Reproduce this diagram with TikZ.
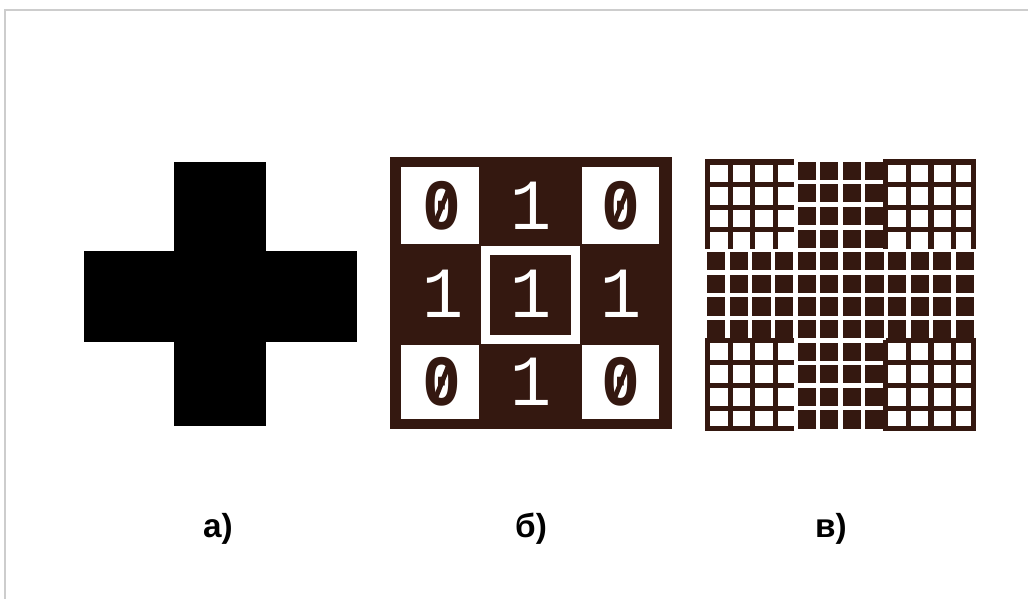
\documentclass[tikz,border=0pt]{standalone}
\usepackage{graphicx}
\usepackage{fontspec}
\setmainfont{Liberation Sans}
\newfontfamily\digitfont{Liberation Mono}
\definecolor{ink}{RGB}{52,24,16}
\definecolor{framegray}{RGB}{205,205,205}
\tikzset{
  zero/.style={text=ink, inner sep=0pt, font=\digitfont\bfseries\fontsize{54}{54}\selectfont},
  one/.style={text=white, inner sep=0pt, font=\digitfont\fontsize{54}{54}\selectfont},
  slash/.style={draw=ink, line width=3.6pt},
  gridline/.style={draw=ink, line width=3.8pt},
  darkcell/.style={fill=ink},
  caption/.style={inner sep=0pt, anchor=base, font=\bfseries\fontsize{25}{30}\selectfont},
}
\newcommand{\zdig}{\scalebox{0.9}[1]{0}}
\newcommand{\odig}{\scalebox{0.95}[1]{1}}
\begin{document}
\begin{tikzpicture}[x=0.75pt,y=-0.75pt]
\useasboundingbox (0,0) rectangle (1028,599);
\fill[white] (0,0) rectangle (1028,599);
\draw[framegray, line width=1.2pt] (5,599) -- (5,10) -- (1028,10);

% panel a: cross
\fill[black] (174,162) rectangle (266,426);
\fill[black] (84,251) rectangle (357,342);

% panel b
\fill[ink] (390,157) rectangle (672,429);
\fill[white] (401,167) rectangle (479,244);
\fill[white] (582,167) rectangle (659,244);
\fill[white] (401,345) rectangle (479,419);
\fill[white] (582,345) rectangle (659,419);
\draw[white, line width=7pt] (485.5,250.5) rectangle (575.5,339.5);

\node[zero] (z1) at (442,206) {\zdig};
\node[zero] (z2) at (621,206) {\zdig};
\node[zero] (z3) at (442,382) {\zdig};
\node[zero] (z4) at (621,382) {\zdig};
\foreach \n in {z1,z2,z3,z4}
  \draw[slash] ([shift={(-6,15)}]\n.center) -- ([shift={(6,-15)}]\n.center);
\node[one] (o1) at (531,206) {\odig};
\node[one] (o2) at (443,294) {\odig};
\node[one] (o3) at (531,294) {\odig};
\node[one] (o4) at (621,294) {\odig};
\node[one] (o5) at (531,382) {\odig};

% panel c
\foreach \i in {4,...,7}
  \foreach \j in {0,...,11}
    \fill[darkcell] ({705+22.6*\i+2.2},{159.5+22.6*\j+2.2}) rectangle +(18.2,18.2);
\foreach \i in {0,1,2,3,8,9,10,11}
  \foreach \j in {4,...,7}
    \fill[darkcell] ({705+22.6*\i+2.2},{159.5+22.6*\j+2.2}) rectangle +(18.2,18.2);
% top-left block
\foreach \k in {0,...,3} {
  \draw[gridline] ({707.5+22.6*\k},159.5) -- ++(0,89);
  \draw[gridline] (705,{162+22.6*\k}) -- ++(89,0);
}
% top-right block
\foreach \k in {8,...,12}
  \draw[gridline] ({705+22.6*\k-(\k==12)*2.5},159.5) -- ++(0,89);
\foreach \k in {0,...,3}
  \draw[gridline] (885.8,{162+22.6*\k}) -- (976.2,{162+22.6*\k});
% bottom-left block
\foreach \k in {0,...,3}
  \draw[gridline] ({707.5+22.6*\k},340.3) -- ({707.5+22.6*\k},430.7);
\foreach \k in {8,...,12}
  \draw[gridline] (705,{159.5+22.6*\k-(\k==12)*2.5}) -- ++(89,0);
% bottom-right block
\foreach \k in {8,...,12} {
  \draw[gridline] ({705+22.6*\k-(\k==12)*2.5},340.3) -- ++(0,90.4);
  \draw[gridline] (885.8,{159.5+22.6*\k-(\k==12)*2.5}) -- ++(90.4,0);
}

% captions
\node[caption] (la) at (218,537) {а)};
\node[caption] (lb) at (531,537) {б)};
\node[caption] (lc) at (831,537) {в)};
\end{tikzpicture}
\end{document}
